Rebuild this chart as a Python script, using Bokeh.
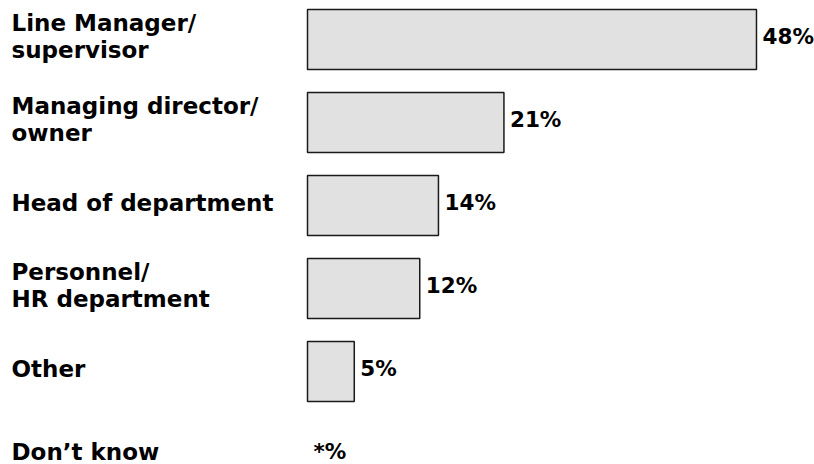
from bokeh.plotting import figure
from bokeh.models import ColumnDataSource, Range1d
from bokeh.core.properties import value
from bokeh.embed import file_html
from bokeh.resources import INLINE

# Data
categories = ["Line Manager/\nsupervisor", "Managing director/\nowner", "Head of department",
              "Personnel/\nHR department", "Other", "Don\u2019t know"]
values = [48, 21, 14, 12, 5, 0]
value_labels = ["48%", "21%", "14%", "12%", "5%", "*%"]

W, H = 814, 464
PX_PER_UNIT = 9.354
ZERO_PX = 307
X_START = -ZERO_PX / PX_PER_UNIT
X_END = (W - ZERO_PX) / PX_PER_UNIT
ROW = 83.0
FIRST = 39.0
Y_TOP = -FIRST / ROW
Y_BOTTOM = (H - FIRST) / ROW

idx = list(range(len(categories)))
bar_idx = [i for i in idx if values[i] > 0]
bars = ColumnDataSource(dict(y=bar_idx, right=[values[i] for i in bar_idx]))
labels = ColumnDataSource(dict(y=idx, x=[X_START] * len(idx), text=categories))
vals = ColumnDataSource(dict(y=idx, x=values, text=value_labels))

p = figure(width=W, height=H, output_backend="svg", toolbar_location=None,
           x_range=Range1d(X_START, X_END), y_range=Range1d(Y_BOTTOM, Y_TOP),
           min_border=0, min_border_left=0, min_border_right=0,
           min_border_top=0, min_border_bottom=0)
p.axis.visible = False
p.grid.visible = False
p.outline_line_color = None
p.background_fill_color = "white"
p.border_fill_color = "white"

p.hbar(y="y", left=0, right="right", height=60 / ROW, source=bars,
       fill_color="#e1e1e1", line_color="#1a1a1a", line_width=1.5)

FONT = value("DejaVu Sans")
p.text(x="x", y="y", text="text", source=labels, x_offset=11, y_offset=-3,
       text_font=FONT, text_font_style="bold", text_font_size="23px",
       text_align="left", text_baseline="middle", text_line_height=1.05,
       text_color="#000000")
p.text(x="x", y="y", text="text", source=vals, x_offset=6, y_offset=-3,
       text_font=FONT, text_font_style="bold", text_font_size="21.5px",
       text_align="left", text_baseline="middle", text_color="#000000")

open("out.html", "w").write(file_html(p, INLINE))
